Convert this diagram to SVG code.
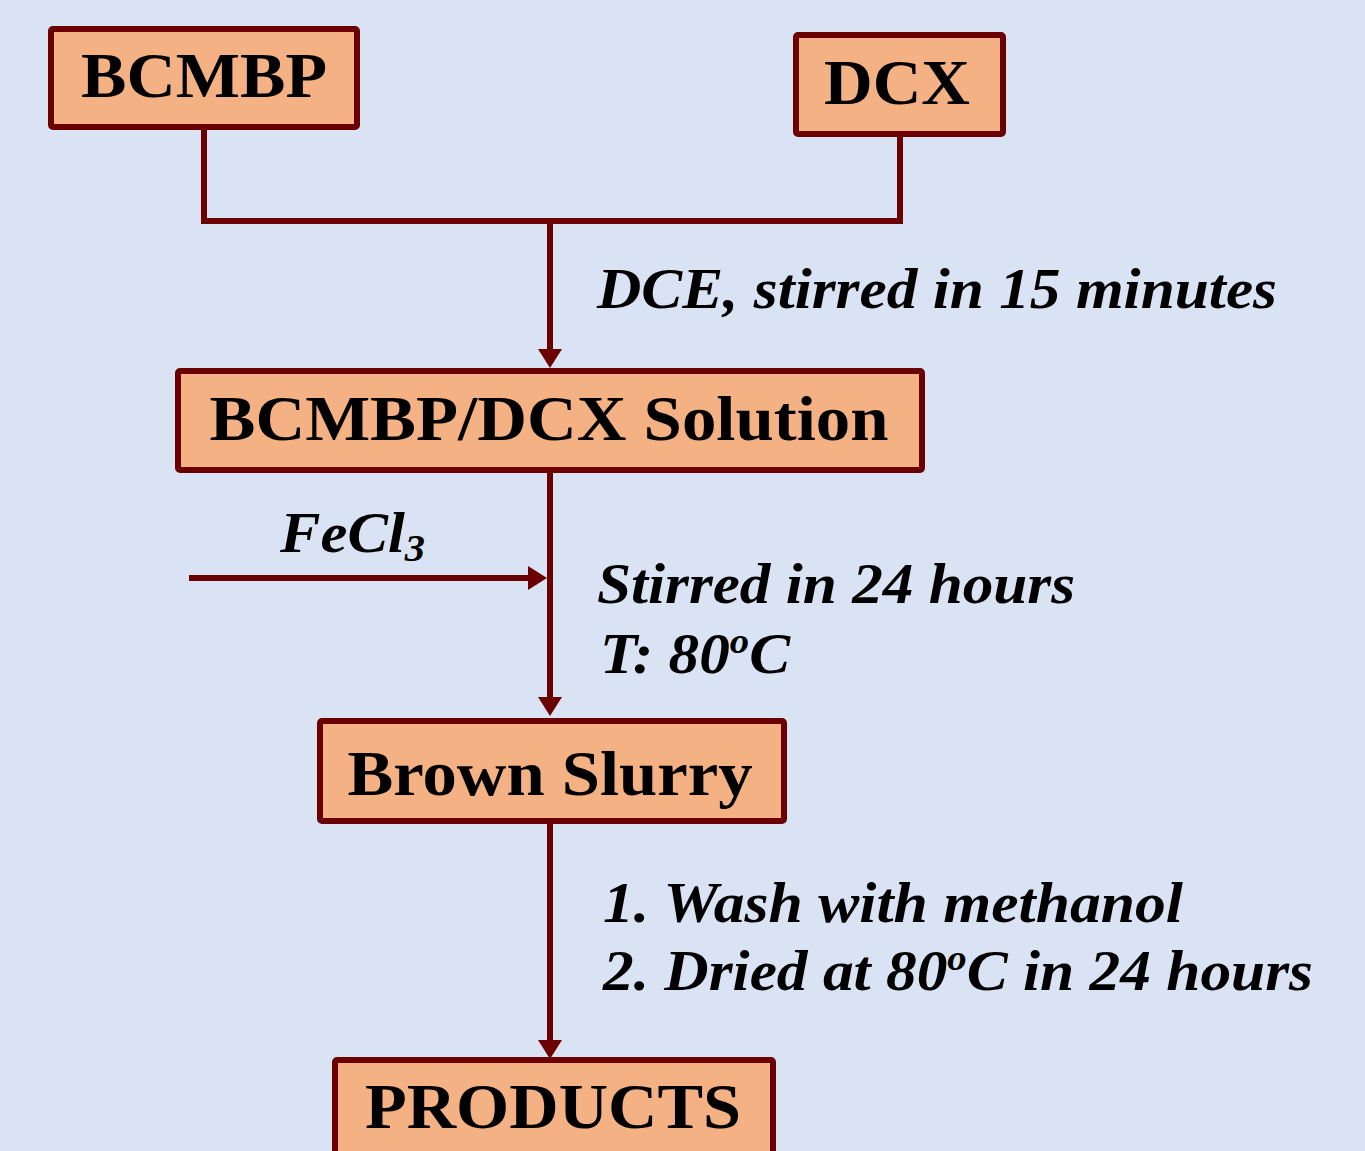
<svg xmlns="http://www.w3.org/2000/svg" width="1365" height="1151" viewBox="0 0 1365 1151">
  <style>
    .box { fill: #f4b183; stroke: #6b0000; stroke-width: 6; }
    .wire { fill: none; stroke: #6b0000; stroke-width: 6; }
    .name { font-family: "Liberation Serif", "Times New Roman", serif; font-weight: bold; font-size: 63px; fill: #000; text-anchor: middle; }
    .note { font-family: "Liberation Serif", "Times New Roman", serif; font-weight: bold; font-style: italic; font-size: 57px; fill: #000; }
  </style>
  <defs>
    <marker id="head" markerUnits="userSpaceOnUse" markerWidth="19" markerHeight="24" refX="10" refY="12" orient="auto" viewBox="0 0 19 24">
      <path d="M0 0 L19 12 L0 24 z" fill="#6b0000"/>
    </marker>
  </defs>

  <rect width="1365" height="1151" fill="#dae3f3"/>

  <!-- connectors -->
  <g id="connectors">
    <path class="wire" d="M204 130 V221 H900 V137"/>
    <path class="wire" d="M550 221 V359" marker-end="url(#head)"/>
    <path class="wire" d="M550 473 V707" marker-end="url(#head)"/>
    <path class="wire" d="M550 824 V1050" marker-end="url(#head)"/>
    <path class="wire" d="M189 578 H538" marker-end="url(#head)"/>
  </g>

  <!-- nodes -->
  <g id="bcmbp">
    <rect class="box" x="51" y="29" width="306" height="98" rx="2"/>
    <text class="name" x="204" y="97" textLength="246" lengthAdjust="spacingAndGlyphs">BCMBP</text>
  </g>
  <g id="dcx">
    <rect class="box" x="796" y="35" width="207" height="99" rx="2"/>
    <text class="name" x="897" y="104" textLength="146" lengthAdjust="spacingAndGlyphs">DCX</text>
  </g>
  <g id="solution">
    <rect class="box" x="178" y="371" width="744" height="99" rx="2"/>
    <text class="name" x="549" y="440" textLength="679" lengthAdjust="spacingAndGlyphs">BCMBP/DCX Solution</text>
  </g>
  <g id="slurry">
    <rect class="box" x="320" y="721" width="464" height="100" rx="2"/>
    <text class="name" x="550" y="795" textLength="405" lengthAdjust="spacingAndGlyphs">Brown Slurry</text>
  </g>
  <g id="products">
    <rect class="box" x="335" y="1060" width="438" height="110" rx="2"/>
    <text class="name" x="553" y="1128" textLength="376" lengthAdjust="spacingAndGlyphs">PRODUCTS</text>
  </g>

  <!-- step conditions -->
  <g id="labels">
    <text class="note" x="597" y="308" textLength="680" lengthAdjust="spacingAndGlyphs">DCE, stirred in 15 minutes</text>
    <text class="note" x="280" y="552" textLength="145" lengthAdjust="spacingAndGlyphs">FeCl<tspan font-size="38" dy="9">3</tspan></text>
    <text class="note" x="597" y="603" textLength="478" lengthAdjust="spacingAndGlyphs">Stirred in 24 hours</text>
    <text class="note" x="600" y="673" textLength="190" lengthAdjust="spacingAndGlyphs">T: 80<tspan font-size="36" dy="-20">o</tspan><tspan dy="20">C</tspan></text>
    <text class="note" x="603" y="922" textLength="580" lengthAdjust="spacingAndGlyphs">1. Wash with methanol</text>
    <text class="note" x="603" y="990" textLength="710" lengthAdjust="spacingAndGlyphs">2. Dried at 80<tspan font-size="36" dy="-20">o</tspan><tspan dy="20">C in 24 hours</tspan></text>
  </g>
</svg>
